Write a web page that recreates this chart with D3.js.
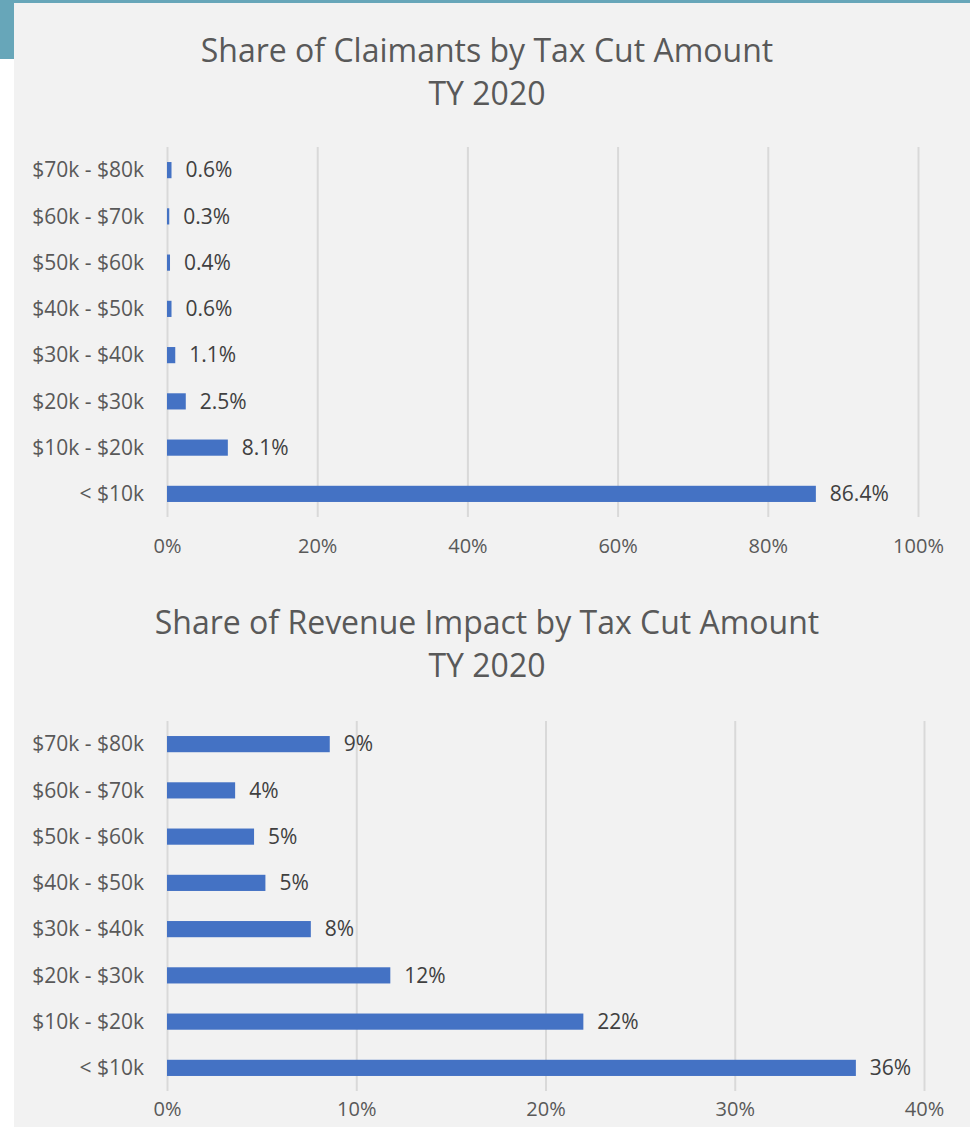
<!DOCTYPE html>
<html><head><meta charset="utf-8">
<script src="https://cdn.jsdelivr.net/npm/d3@7"></script>
<style>
html,body{margin:0;padding:0;background:#fff;}
svg{display:block;}
text{font-family:"Open Sans","Noto Sans",sans-serif;}
</style></head>
<body>
<svg id="chart" width="970" height="1127"></svg>
<script>
const categories = ["$70k - $80k","$60k - $70k","$50k - $60k","$40k - $50k","$30k - $40k","$20k - $30k","$10k - $20k","< $10k"];
const claimantShare = [0.006,0.003,0.004,0.006,0.011,0.025,0.081,0.864];
const revenueShare = [0.086,0.036,0.046,0.052,0.076,0.118,0.220,0.364];
const claimantTicks = [0,0.2,0.4,0.6,0.8,1.0];
const revenueTicks = [0,0.1,0.2,0.3,0.4];
const title1 = ["Share of Claimants by Tax Cut Amount","TY 2020"];
const title2 = ["Share of Revenue Impact by Tax Cut Amount","TY 2020"];

const svg = d3.select("#chart");
// background panels
svg.append("rect").attr("x",0).attr("y",0).attr("width",970).attr("height",1127).attr("fill","#ffffff");
svg.append("rect").attr("x",0).attr("y",0).attr("width",970).attr("height",3).attr("fill","#67a6b9");
svg.append("rect").attr("x",0).attr("y",0).attr("width",14).attr("height",59).attr("fill","#67a6b9");
svg.append("rect").attr("x",14).attr("y",3).attr("width",956).attr("height",1124).attr("fill","#f2f2f2");

function drawChart(opts){
  const g = svg.append("g");
  const x = d3.scaleLinear().domain(opts.domain).range(opts.xRange);
  const y = d3.scaleBand().domain(categories).range(opts.yRange).paddingInner(0.65).paddingOuter(0.325);
  // title
  opts.title.forEach((t,i)=>{
    g.append("text").attr("x",487).attr("y",opts.titleY + i*43)
      .attr("text-anchor","middle").attr("font-size",32).attr("fill","#595959").text(t);
  });
  // gridlines
  const xAxis = d3.axisBottom(x).tickValues(opts.ticks).tickFormat(d3.format(".0%"))
     .tickSize(-(opts.yRange[1]-opts.yRange[0])).tickSizeOuter(0);
  const ax = g.append("g").attr("transform",`translate(0,${opts.yRange[1]})`).call(xAxis);
  ax.select(".domain").remove();
  ax.selectAll(".tick line").attr("stroke","#d9d9d9").attr("stroke-width",2);
  ax.selectAll(".tick text").attr("font-size",20).attr("fill","#595959").attr("dy",0).attr("y",opts.tickLabelY - opts.yRange[1]).attr("dominant-baseline","middle")
    .attr("font-family","'Open Sans','Noto Sans',sans-serif");
  // y labels
  const yAxis = d3.axisLeft(y).tickSize(0).tickPadding(0);
  const ay = g.append("g").attr("transform",`translate(${opts.labelX},0)`).call(yAxis);
  ay.select(".domain").remove();
  ay.selectAll(".tick text").attr("font-size",21).attr("fill","#595959").attr("dy","0.35em")
    .attr("font-family","'Open Sans','Noto Sans',sans-serif");
  // bars
  g.selectAll("rect.bar").data(opts.values).enter().append("rect")
    .attr("class","bar")
    .attr("x",x(0)).attr("y",(d,i)=>y(categories[i]))
    .attr("width",d=>x(d)-x(0)).attr("height",y.bandwidth())
    .attr("fill","#4472c4");
  // data labels
  g.selectAll("text.lbl").data(opts.values).enter().append("text")
    .attr("class","lbl")
    .attr("x",d=>x(d)+14).attr("y",(d,i)=>y(categories[i])+y.bandwidth()/2)
    .attr("dy","0.35em").attr("font-size",21).attr("fill","#404040")
    .text(d=>d3.format(opts.labelFmt)(d));
}

drawChart({values:claimantShare, domain:[0,1], ticks:claimantTicks, xRange:[167,918], yRange:[147,517],
  title:title1, titleY:62, tickLabelY:548, labelX:144, labelFmt:".1%"});
drawChart({values:revenueShare, domain:[0,0.4], ticks:revenueTicks, xRange:[167,924], yRange:[721,1091],
  title:title2, titleY:634, tickLabelY:1111, labelX:144, labelFmt:".0%"});
</script>
</body></html>
